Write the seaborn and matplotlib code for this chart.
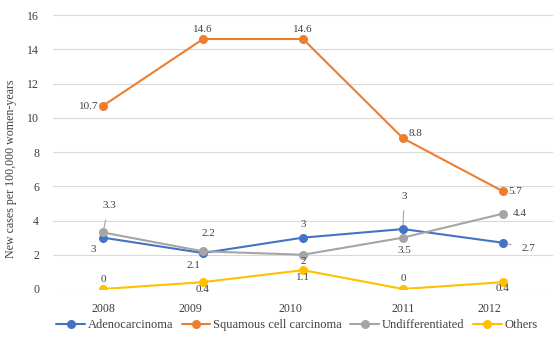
import pandas as pd
import matplotlib
matplotlib.use('Agg')
import matplotlib.pyplot as plt
import matplotlib.transforms as mtransforms
import seaborn as sns

years = ['2008', '2009', '2010', '2011', '2012']
adeno = [3.0, 2.1, 3.0, 3.5, 2.7]
squamous = [10.7, 14.6, 14.6, 8.8, 5.7]
undiff = [3.3, 2.2, 2.0, 3.0, 4.4]
others = [0.0, 0.4, 1.1, 0.0, 0.4]

# data labels as they appear on the chart
adeno_lbl = ['3', '2.1', '3', '3', '2.7']
squamous_lbl = ['10.7', '14.6', '14.6', '8.8', '5.7']
undiff_lbl = ['3.3', '2.2', '2', '3.5', '4.4']
others_lbl = ['0', '0.4', '1.1', '0', '0.4']

names = ['Adenocarcinoma', 'Squamous cell carcinoma', 'Undifferentiated', 'Others']
colors = ['#4472C4', '#ED7D31', '#A5A5A5', '#FFC000']

df = pd.DataFrame({'pos': list(range(len(years))) * 4,
                   'value': adeno + squamous + undiff + others,
                   'type': [n for n in names for _ in years]})

sns.set_style('white')
plt.rcParams['font.family'] = ['Liberation Serif', 'DejaVu Serif']

fig = plt.figure(figsize=(5.6, 3.42), dpi=100)
ax = fig.add_axes([0.0946, 0.155, 0.893, 0.801])

sns.lineplot(data=df, x='pos', y='value', hue='type', hue_order=names,
             palette=colors, marker='o', markersize=6.5, markeredgewidth=0,
             linewidth=1.5, ax=ax, legend=True)

ax.set_xlim(-0.5, 4.5)
ax.set_ylim(0, 16)
ax.set_yticks(range(0, 17, 2))
ax.set_xticks(range(len(years)))
ax.set_xticklabels(years)
ax.tick_params(axis='y', length=0, labelsize=8.6, colors='#404040', pad=10)
ax.tick_params(axis='x', length=0, labelsize=8.6, colors='#404040', pad=10)
ax.yaxis.grid(True, color='#D9D9D9', linewidth=0.8)
ax.set_axisbelow(True)
for s in ax.spines.values():
    s.set_visible(False)
ax.set_xlabel('')
ax.set_ylabel('New cases per 100,000 women-years', fontsize=8.6, color='#404040')
ax.yaxis.set_label_coords(-0.072, 0.438)

# category labels sit a little left of some points in the original
shifts = [0, -13, -13, 0, -14]
for lab, sh in zip(ax.get_xticklabels(), shifts):
    lab.set_transform(lab.get_transform() + mtransforms.ScaledTranslation(sh / 100, 0, fig.dpi_scale_trans))

# label offsets in pixels (dx right, dy down)
offs = {
    0: [(-10, 12), (-10, 12), (0, -13), (1, -33), (25, 6)],
    1: [(-14, 1), (0, -10), (0, -10), (12, -5), (12, 0)],
    2: [(6, -27), (5, -18), (0, 7), (1, 13), (17, 0)],
    3: [(0, -9), (0, 7), (0, 7), (0, -10), (0, 6)],
}
leaders = {(0, 3), (0, 4), (2, 0), (2, 1)}
series = [adeno, squamous, undiff, others]
labels = [adeno_lbl, squamous_lbl, undiff_lbl, others_lbl]
for si, (vals, lbls) in enumerate(zip(series, labels)):
    for i, (v, t) in enumerate(zip(vals, lbls)):
        dx, dy = offs[si][i]
        arrow = None
        if (si, i) in leaders:
            arrow = dict(arrowstyle='-', color='#A5A5A5', lw=0.8, shrinkA=5, shrinkB=3)
        ax.annotate(t, (i, v), xytext=(dx * 0.72, -dy * 0.72), textcoords='offset points',
                    ha='center', va='center', fontsize=8, color='#404040',
                    arrowprops=arrow)

ax.legend(loc='center', bbox_to_anchor=(0.53, 0.05), bbox_transform=fig.transFigure,
          ncol=4, frameon=False, fontsize=9, handlelength=2.3, handletextpad=0.2,
          columnspacing=0.7, labelcolor='#404040')

fig.savefig('out.png', dpi=100)
